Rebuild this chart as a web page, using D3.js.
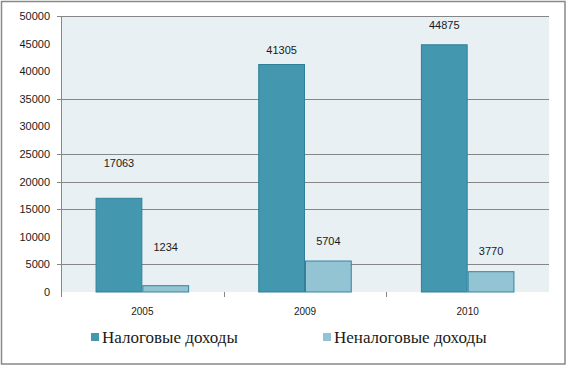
<!DOCTYPE html>
<html>
<head>
<meta charset="utf-8">
<script src="https://cdn.jsdelivr.net/npm/d3@7"></script>
<style>
  body { margin: 0; background: #fff; }
  svg { display: block; }
</style>
</head>
<body>
<div id="chart"></div>
<script>
// данные графика
var years = ["2005", "2009", "2010"];
var seriesNames = ["Налоговые доходы", "Неналоговые доходы"];
var taxIncome = [17063, 41305, 44875];
var nonTaxIncome = [1234, 5704, 3770];
var yTicks = [0, 5000, 10000, 15000, 20000, 25000, 30000, 35000, 40000, 45000, 50000];
// линии сетки, которые видны на исходной картинке
var gridValues = [5000, 15000, 20000, 25000, 35000, 50000];

// подписи значений подняты над столбиками по-разному (как в оригинале)
var labelLift = [[27, 30], [6, 12], [11, 12]];

var colors = ["#4398b0", "#93c4d4"];
var strokes = ["#2f7f98", "#3484a0"];

var width = 567, height = 365;
var plot = {left: 61, top: 16, right: 549, bottom: 292};

var svg = d3.select("#chart").append("svg")
    .attr("width", width)
    .attr("height", height);

// рамка
svg.append("rect")
    .attr("x", 1.5).attr("y", 1.5)
    .attr("width", 563.5).attr("height", 362.5)
    .attr("fill", "#fff")
    .attr("stroke", "#888")
    .attr("stroke-width", 1.5);

// фон области построения
svg.append("rect")
    .attr("x", plot.left).attr("y", plot.top)
    .attr("width", plot.right - plot.left)
    .attr("height", plot.bottom - plot.top)
    .attr("fill", "#e8f0f3");

var x0 = d3.scaleBand()
    .domain(years)
    .range([plot.left, plot.right]);

var bw = x0.bandwidth();
var x1 = d3.scaleBand()
    .domain([0, 1])
    .range([bw * 0.2125, bw * 0.7875]);

var y = d3.scaleLinear()
    .domain([0, 50000])
    .range([plot.bottom, plot.top]);

// сетка
svg.append("g")
    .selectAll("line")
    .data(gridValues)
    .enter()
    .append("line")
    .attr("x1", plot.left - 4)
    .attr("x2", plot.right)
    .attr("y1", function (d) { return Math.round(y(d)) + 0.5; })
    .attr("y2", function (d) { return Math.round(y(d)) + 0.5; })
    .attr("stroke", "#868686")
    .attr("stroke-width", 1);

// ось Y
var yAxis = d3.axisLeft(y).tickValues(yTicks).tickFormat(d3.format("d")).tickSize(0).tickPadding(11);
var gy = svg.append("g")
    .attr("transform", "translate(" + plot.left + ",0)")
    .call(yAxis);
gy.select(".domain").remove();
gy.selectAll("text")
    .attr("font-family", "Liberation Sans, Arial, sans-serif")
    .attr("font-size", 11)
    .attr("fill", "#1a1a1a");

svg.append("line")
    .attr("x1", plot.left + 0.5).attr("x2", plot.left + 0.5)
    .attr("y1", plot.top).attr("y2", plot.bottom + 5)
    .attr("stroke", "#868686");

// столбики
var rows = years.map(function (yr, i) {
    return {year: yr, values: [taxIncome[i], nonTaxIncome[i]], idx: i};
});

var groups = svg.append("g")
    .selectAll("g.bar")
    .data(rows)
    .enter()
    .append("g")
    .attr("class", "bar")
    .attr("transform", function (d) { return "translate(" + x0(d.year) + ",0)"; });

groups.selectAll("rect")
    .data(function (d) { return d.values.map(function (v, s) { return {v: v, s: s, i: d.idx}; }); })
    .enter()
    .append("rect")
    .attr("x", function (d) { return x1(d.s) + 0.5; })
    .attr("y", function (d) { return y(d.v) + 0.5; })
    .attr("width", x1.bandwidth() - 1)
    .attr("height", function (d) { return plot.bottom - y(d.v) - 0.5; })
    .attr("fill", function (d) { return colors[d.s]; })
    .attr("stroke", function (d) { return strokes[d.s]; })
    .attr("stroke-width", 1);

groups.selectAll("text")
    .data(function (d) { return d.values.map(function (v, s) { return {v: v, s: s, i: d.idx}; }); })
    .enter()
    .append("text")
    .attr("x", function (d) { return x1(d.s) + x1.bandwidth() / 2; })
    .attr("y", function (d) { return y(d.v) - labelLift[d.i][d.s] - 4; })
    .attr("text-anchor", "middle")
    .attr("font-family", "Liberation Sans, Arial, sans-serif")
    .attr("font-size", 11)
    .attr("fill", "#1a1a1a")
    .text(function (d) { return d.v; });

// ось X
svg.append("g")
    .selectAll("line")
    .data(years.slice(1))
    .enter()
    .append("line")
    .attr("x1", function (d) { return Math.round(x0(d)) + 0.5; })
    .attr("x2", function (d) { return Math.round(x0(d)) + 0.5; })
    .attr("y1", plot.bottom)
    .attr("y2", plot.bottom + 5)
    .attr("stroke", "#868686");

svg.append("g")
    .selectAll("text")
    .data(years)
    .enter()
    .append("text")
    .attr("x", function (d) { return x0(d) + bw / 2; })
    .attr("y", 315)
    .attr("text-anchor", "middle")
    .attr("font-family", "Liberation Sans, Arial, sans-serif")
    .attr("font-size", 10)
    .attr("fill", "#1a1a1a")
    .text(function (d) { return d; });

// легенда
var legendX = [91, 323];
var legend = svg.append("g")
    .selectAll("g")
    .data(seriesNames)
    .enter()
    .append("g")
    .attr("transform", function (d, i) { return "translate(" + legendX[i] + ",333)"; });

legend.append("rect")
    .attr("width", 8).attr("height", 8)
    .attr("fill", function (d, i) { return colors[i]; });

legend.append("text")
    .attr("x", 11)
    .attr("y", 10)
    .attr("font-family", "Liberation Serif, Times New Roman, serif")
    .attr("font-size", 17)
    .attr("fill", "#1a1a1a")
    .text(function (d) { return d; });
</script>
</body>
</html>
